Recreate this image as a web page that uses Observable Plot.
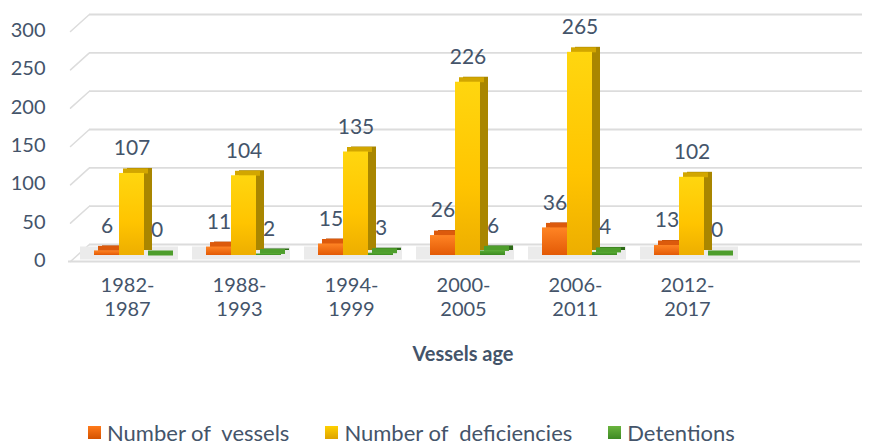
<!DOCTYPE html>
<html><head><meta charset="utf-8">
<script src="https://cdn.jsdelivr.net/npm/d3@7"></script>
<script src="https://cdn.jsdelivr.net/npm/@observablehq/plot@0.6"></script>
<style>
body{margin:0;background:#fff;font-family:Lato,sans-serif;}
#chart svg{display:block}
#legend{display:flex;padding-left:88px;gap:36px;font-size:22px;color:#44546A;height:28px;align-items:center;white-space:pre}
.item{display:flex;align-items:center;gap:6px}
.sw{width:13px;height:13px;display:inline-block}
</style></head><body><div id="chart"></div><div id="legend"></div>
<script>
const categories = ["1982-1987","1988-1993","1994-1999","2000-2005","2006-2011","2012-2017"];
const vessels = [6, 11, 15, 26, 36, 13];
const deficiencies = [107, 104, 135, 226, 265, 102];
const detentions = [0, 2, 3, 6, 4, 0];
const seriesNames = ["Number of  vessels", "Number of  deficiencies", "Detentions"];
const yTicks = [0, 50, 100, 150, 200, 250, 300];

const xDomain = [...categories, ""];
const rows = arr => arr.map((v, i) => ({cat: categories[i], v}));

const styles = [
  {data: rows(vessels), off: -20.5, front: "url(#gOrange)", top: "#DC5A0C", side: "#B94A05"},
  {data: rows(deficiencies), off: 4.5, front: "url(#gYellow)", top: "#D2A600", side: "#A98600"},
  {data: rows(detentions), off: 29.5, front: "url(#gGreen)", top: "#4E9E2C", side: "#2E6A18"}
];
const ins = 43.5;
const textColor = "#44546A";
const grid = "#DCDCDC";

const marks = [
  Plot.ruleY(yTicks, {y: d => d, dx: 19, dy: -11, insetRight: 12, stroke: grid, strokeWidth: 1.8}),
  Plot.vector(yTicks, {y: d => d, frameAnchor: "left", dy: 6, length: 25, rotate: 48, anchor: "start",
    shape: {draw(context, l) { context.moveTo(0, 0); context.lineTo(0, -l); }},
    stroke: grid, strokeWidth: 1.5}),
  Plot.ruleY([0], {y: d => d, dy: 6, insetLeft: -2, insetRight: -5, stroke: grid, strokeWidth: 1.8}),
  Plot.tickY(categories, {x: d => d, y: () => 0, dx: 7, dy: -2.5, insetLeft: 2, insetRight: 12, stroke: "#EBEBEB", strokeWidth: 13})
];
for (const s of styles) {
  marks.push(
    Plot.barY(s.data, {x: "cat", y: "v", fill: s.side, insetLeft: ins, insetRight: ins, dx: s.off + 8, dy: -5}),
    Plot.tickY(s.data, {x: "cat", y: "v", stroke: s.top, strokeWidth: 5, insetLeft: ins, insetRight: ins, dx: s.off + 4, dy: -2.5}),
    Plot.barY(s.data, {x: "cat", y: "v", fill: s.front, insetLeft: ins, insetRight: ins, dx: s.off})
  );
}
for (const s of styles) {
  marks.push(Plot.text(s.data, {x: "cat", y: "v", text: d => String(d.v), dx: s.off, dy: -25, fontSize: 21, fill: textColor}));
}
marks.push(
  Plot.axisY({ticks: yTicks, tickSize: 0, tickPadding: 25, dy: 5, fontSize: 20, fill: textColor, label: null}),
  Plot.axisX({tickSize: 0, tickPadding: 19, tickFormat: d => d ? d.replace("-", "-\n") : "", lineHeight: 1.22, fontSize: 20, fill: textColor, label: null}),
  Plot.text(["Vessels age"], {frameAnchor: "bottom", dy: 105, text: d => d, fontWeight: "bold", fontSize: 20, fill: textColor})
);

const chart = Plot.plot({
  width: 873, height: 418,
  marginLeft: 70, marginRight: 18, marginTop: 25, marginBottom: 163,
  style: {fontFamily: "Lato, sans-serif", fontSize: "20px", background: "#fff"},
  x: {type: "band", domain: xDomain, padding: 0, axis: null},
  y: {domain: [0, 300], axis: null},
  marks
});

const defs = d3.select(chart).insert("defs", ":first-child");
function grad(id, stops) {
  const g = defs.append("linearGradient").attr("id", id).attr("x1", 0).attr("y1", 0).attr("x2", 0).attr("y2", 1);
  stops.forEach(([o, c]) => g.append("stop").attr("offset", o).attr("stop-color", c));
}
grad("gOrange", [[0, "#FF8424"], [1, "#E35A06"]]);
grad("gYellow", [[0, "#FFD60F"], [0.6, "#FFC400"], [1, "#EDAE00"]]);
grad("gGreen", [[0, "#58AC33"], [1, "#3D8A22"]]);
document.getElementById("chart").appendChild(chart);

const swatches = ["linear-gradient(#FF7A1A,#D45200)", "linear-gradient(#FFD000,#DDA300)", "linear-gradient(#6AB43E,#3E8A24)"];
const legend = document.getElementById("legend");
seriesNames.forEach((n, i) => {
  const it = document.createElement("div"); it.className = "item";
  const sw = document.createElement("span"); sw.className = "sw"; sw.style.background = swatches[i];
  const tx = document.createElement("span"); tx.textContent = n;
  it.appendChild(sw); it.appendChild(tx); legend.appendChild(it);
});
</script></body></html>
